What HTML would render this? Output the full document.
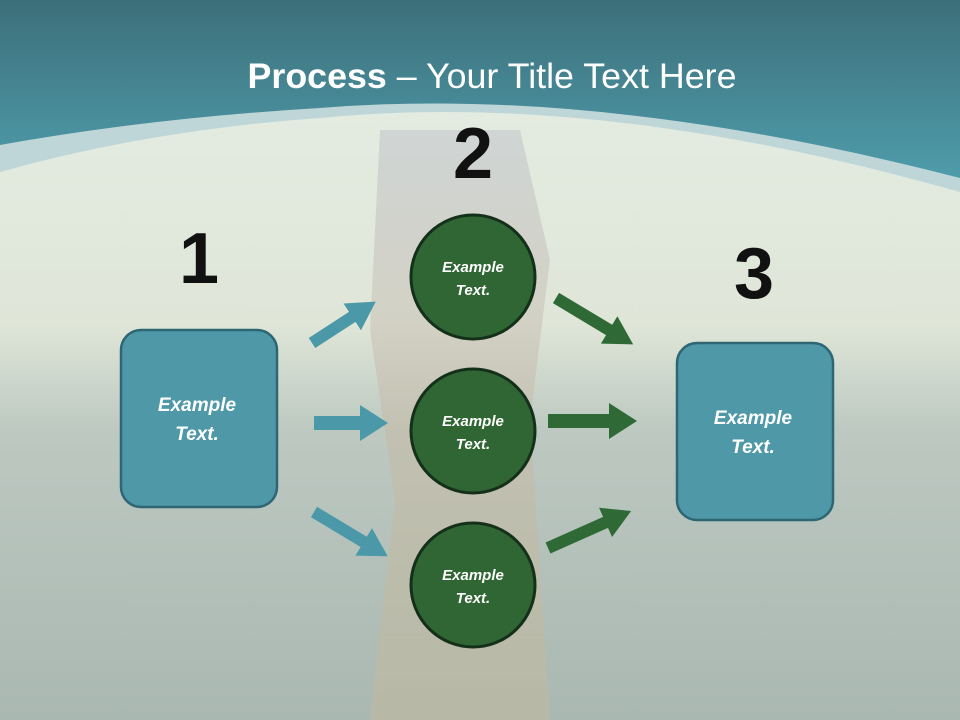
<!DOCTYPE html>
<html><head><meta charset="utf-8"><style>
html,body{margin:0;padding:0;width:960px;height:720px;overflow:hidden}
svg{display:block}
text{font-family:"Liberation Sans",sans-serif}
</style></head><body>
<svg width="960" height="720" viewBox="0 0 960 720">
<defs>
<linearGradient id="bg" x1="0" y1="0" x2="0" y2="1">
<stop offset="0" stop-color="#e6eee6"/><stop offset="0.45" stop-color="#dfe6d8"/>
<stop offset="0.6" stop-color="#bcc8c0"/><stop offset="1" stop-color="#aab8b2"/></linearGradient>
<linearGradient id="hd" x1="0" y1="0" x2="0" y2="1">
<stop offset="0" stop-color="#3c6f7a"/><stop offset="1" stop-color="#4f9cab"/></linearGradient>
<linearGradient id="dress" x1="0" y1="0" x2="0" y2="1">
<stop offset="0" stop-color="#b8b8c4"/><stop offset="0.5" stop-color="#c8b7a0"/><stop offset="1" stop-color="#c7b896"/></linearGradient>
</defs>
<rect width="960" height="720" fill="url(#bg)"/>
<path d="M380 130 L520 130 L550 260 L530 420 L550 720 L370 720 L395 500 L370 330 Z" fill="url(#dress)" opacity="0.45"/>
<path d="M0 0 H960 V192 Q600 90 320 118 Q150 130 0 172 Z" fill="#b5d1d6" opacity="0.8"/>
<path d="M0 0 H960 V178 Q600 85 320 108 Q150 118 0 145 Z" fill="url(#hd)"/>
<text x="492" y="88" text-anchor="middle" font-size="35" fill="#fff" textLength="489" lengthAdjust="spacingAndGlyphs"><tspan font-weight="bold">Process</tspan> – Your Title Text Here</text>
<g font-weight="bold" font-size="72" fill="#111" text-anchor="middle">
<text x="199" y="283">1</text><text x="473" y="178">2</text><text x="754" y="298">3</text></g>
<g fill="#4a98a8">
<polygon points="0,-6 48,-6 48,-16 76,0 48,16 48,6 0,6" transform="translate(312,343) rotate(-33)"/>
<polygon points="0,-7 46,-7 46,-18 74,0 46,18 46,7 0,7" transform="translate(314,423)"/>
<polygon points="0,-6 58,-6 58,-16 86,0 58,16 58,6 0,6" transform="translate(314,512) rotate(31)"/>
</g>
<g fill="#2f6a36">
<polygon points="0,-6 62,-6 62,-16 90,0 62,16 62,6 0,6" transform="translate(556,298) rotate(31)"/>
<polygon points="0,-7 61,-7 61,-18 89,0 61,18 61,7 0,7" transform="translate(548,421)"/>
<polygon points="0,-6 63,-6 63,-16 91,0 63,16 63,6 0,6" transform="translate(548,548) rotate(-24)"/>
</g>
<g fill="#2f6633" stroke="#15301a" stroke-width="3">
<circle cx="473" cy="277" r="62"/><circle cx="473" cy="431" r="62"/><circle cx="473" cy="585" r="62"/></g>
<rect x="121" y="330" width="156" height="177" rx="20" fill="#4e98a8" stroke="#2f6673" stroke-width="2.5"/>
<rect x="677" y="343" width="156" height="177" rx="20" fill="#4e98a8" stroke="#2f6673" stroke-width="2.5"/>
<g fill="#fff" font-weight="bold" font-style="italic" text-anchor="middle">
<g font-size="15"><text x="473" y="272">Example</text><text x="473" y="295">Text.</text>
<text x="473" y="426">Example</text><text x="473" y="449">Text.</text>
<text x="473" y="580">Example</text><text x="473" y="603">Text.</text></g>
<g font-size="19"><text x="197" y="411">Example</text><text x="197" y="440">Text.</text>
<text x="753" y="424">Example</text><text x="753" y="453">Text.</text></g></g>
</svg>
</body></html>
